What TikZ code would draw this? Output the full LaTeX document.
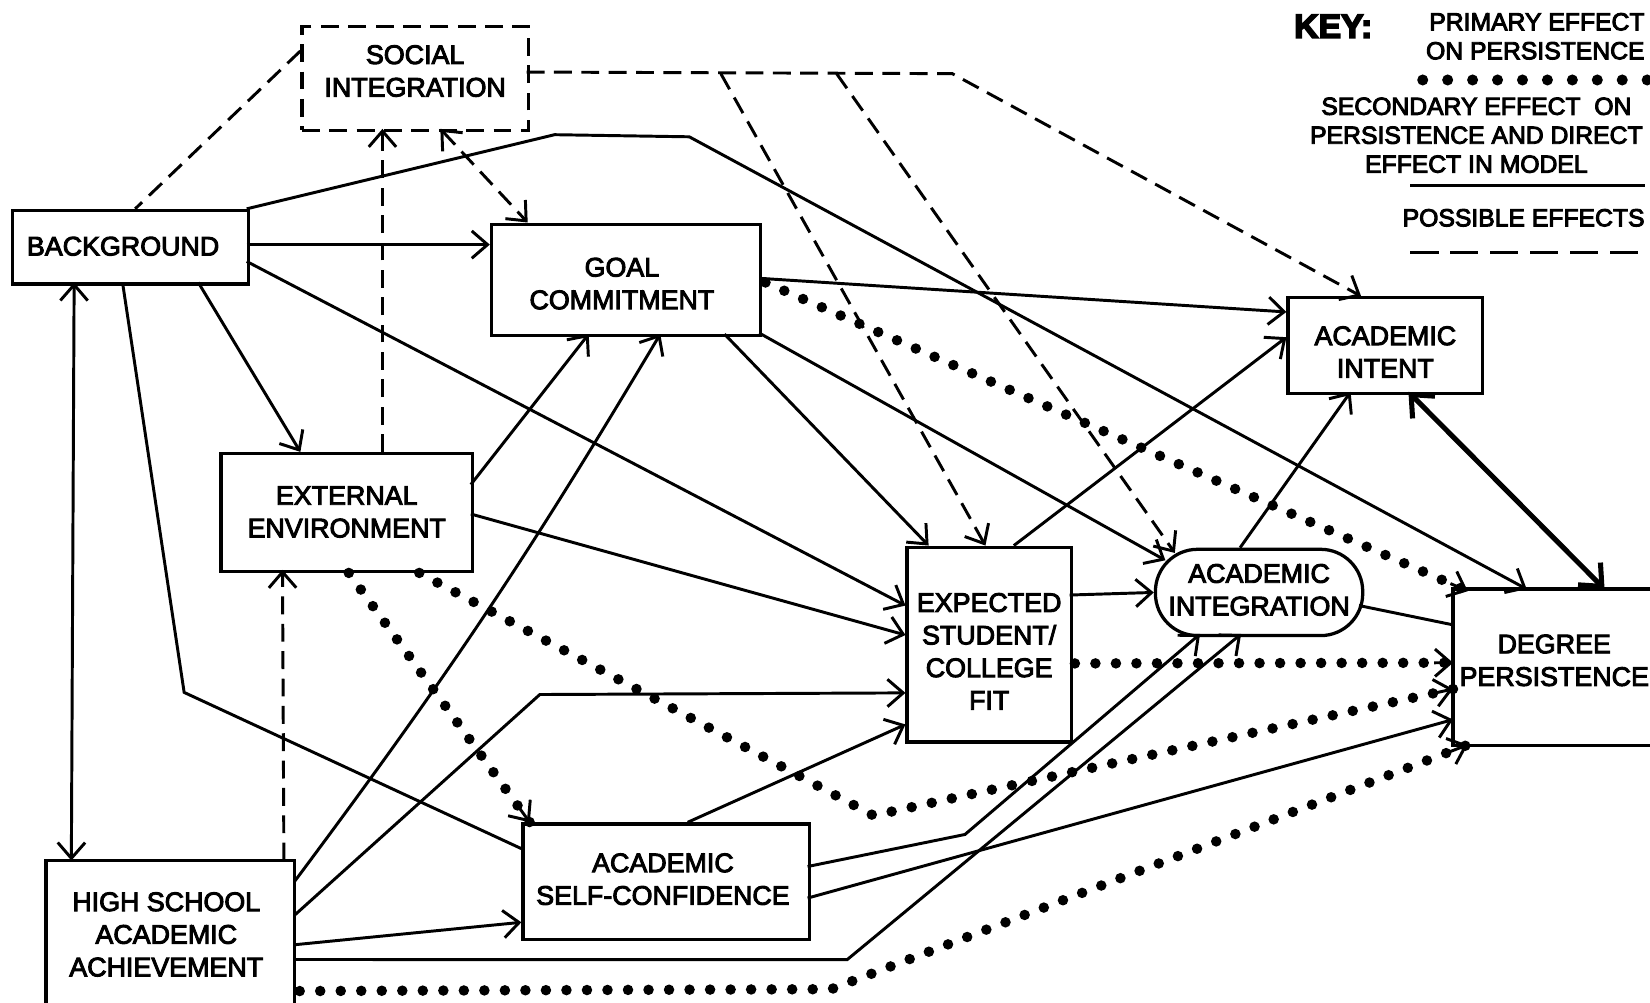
\documentclass[tikz,border=0pt]{standalone}
\usepackage{fontspec}
\setmainfont{Liberation Sans}
\newcommand\heavyink[1]{\special{pdf:literal 2 Tr #1 w}}
\usetikzlibrary{arrows.meta,calc}
\begin{document}
\begin{tikzpicture}[x=1pt,y=-1pt,
  every node/.style={font=\fontsize{25.5}{31}\selectfont\heavyink{0.9}, align=center, inner sep=0pt},
  box/.style={draw, line width=3.1pt},
  conn/.style={line width=2.8pt},
  arr/.style={line width=2.8pt, -{Straight Barb[length=15pt,width=26pt]}},
  darr/.style={line width=2.8pt, {Straight Barb[length=15pt,width=26pt]}-{Straight Barb[length=15pt,width=26pt]}},
  thickarr/.style={line width=4.8pt, {Straight Barb[length=17pt,width=30pt]}-{Straight Barb[length=17pt,width=30pt]}},
  dashline/.style={line width=2.8pt, dash pattern=on 17pt off 9pt},
  dotline/.style={line width=10pt, line cap=round, dash pattern=on 0pt off 19.5pt},
  keyfont/.style={font=\fontsize{23.5}{27.5}\selectfont\heavyink{0.9}}
]
\fill[white] (0,0) rectangle (1568,953);
\useasboundingbox (0,0) rectangle (1568,953);

% boxes
\node[box, dash pattern=on 17pt off 9pt, minimum width=215pt, minimum height=99pt] (si) at (394.5,74.5) {};
\node[box, minimum width=224pt, minimum height=70pt] (bg) at (124,235) {};
\node[box, minimum width=256pt, minimum height=106pt] (gc) at (595,266) {};
\node[box, minimum width=239pt, minimum height=112pt] (ee) at (329.5,487) {};
\node[minimum width=236pt, minimum height=135pt] (hs) at (162,885.5) {};
\draw[box] (hs.south west) -- (hs.north west) -- (hs.north east) -- (hs.south east);
\node[box, minimum width=272pt, minimum height=110pt] (asc) at (633,838) {};
\node[box, minimum width=156pt, minimum height=185pt] (fit) at (940,612.5) {};
\node[box, rounded corners=40pt, minimum width=197pt, minimum height=82pt] (ai) at (1196.5,563) {};
\node[box, minimum width=185pt, minimum height=91pt] (ain) at (1316.5,328.5) {};
\node[minimum width=187pt, minimum height=148pt] (dp) at (1474.5,634) {};
\draw[box] (dp.north east) -- (dp.north west) -- (dp.south west) -- (dp.south east);

% texts
\node (si-t) at ($(si)+(0,-7)$) {SOCIAL\\INTEGRATION};
\node (bg-t) at ($(bg)+(-7,-1)$) {BACKGROUND};
\node (gc-t) at ($(gc)+(-4,3.5)$) {GOAL\\COMMITMENT};
\node (ee-t) at ($(ee)+(0,-0.5)$) {EXTERNAL\\ENVIRONMENT};
\node (hs-t) at ($(hs)+(-4,2.5)$) {HIGH SCHOOL\\ACADEMIC\\ACHIEVEMENT};
\node (asc-t) at ($(asc)+(-3,-2.5)$) {ACADEMIC\\SELF-CONFIDENCE};
\node (fit-t) at ($(fit)+(0,6.5)$) {EXPECTED\\STUDENT/\\COLLEGE\\FIT};
\node (ai-t) at ($(ai)+(0,-2.5)$) {ACADEMIC\\INTEGRATION};
\node (ain-t) at ($(ain)+(0,6)$) {ACADEMIC\\INTENT};
\node (dp-t) at ($(dp)+(2.5,-6.5)$) {DEGREE\\PERSISTENCE};

% solid connectors
\draw[arr] ($(bg.north west)+(224,34)$) -- ($(gc.north west)+(0,21)$);
\draw[arr] ($(bg.north west)+(224,0)$) -- (527,128) -- (655,130) -- ($(dp.north west)+(70,0)$);
\draw[arr] ($(bg.north west)+(224,50)$) -- ($(fit.north west)+(0,57)$);
\draw[arr] ($(bg.north west)+(178,70)$) -- ($(ee.north west)+(77,0)$);
\draw[conn] ($(bg.north west)+(106,70)$) -- (175,658) -- ($(asc.north west)+(0,25)$);
\draw[darr] ($(bg.north west)+(60,70)$) -- ($(hs.north west)+(24,0)$);
\draw[arr] ($(ee.north west)+(239,31)$) -- ($(gc.north west)+(94,106)$);
\draw[arr] ($(ee.north west)+(239,59)$) -- ($(fit.north west)+(0,85)$);
\draw[arr] ($(hs.north west)+(236,20)$) to[bend right=3] ($(gc.north west)+(162,106)$);
\draw[arr] ($(hs.north west)+(236,52)$) -- (513,660) -- ($(fit.north west)+(0,140)$);
\draw[arr] ($(hs.north west)+(236,80)$) -- ($(asc.north west)+(0,95)$);
\draw[arr] ($(hs.north west)+(236,94)$) -- (805,912) -- ($(ai.north west)+(83,82)$);
\draw[arr] ($(asc.north west)+(158,0)$) -- ($(fit.north west)+(0,170)$);
\draw[arr] ($(asc.north west)+(272,42)$) -- (917,793) -- ($(ai.north west)+(44,82)$);
\draw[arr] ($(asc.north west)+(272,72)$) -- ($(dp.north west)+(0,124)$);
\draw[arr] ($(gc.north west)+(256,53)$) -- ($(ain.north west)+(0,15)$);
\draw[arr] ($(gc.north west)+(223,106)$) -- ($(fit.north west)+(22,0)$);
\draw[arr] ($(gc.north west)+(256,105)$) -- ($(ai.north west)+(11,12)$);
\draw[arr] ($(fit.north west)+(103,0)$) -- ($(ain.north west)+(0,39)$);
\draw[arr] ($(fit.north west)+(156,47)$) -- (ai.west);
\draw[arr] ($(ai.north west)+(82,0)$) -- ($(ain.north west)+(61,91)$);
\draw[conn] ($(ai.north west)+(195,55)$) -- ($(dp.north west)+(0,34)$);
\draw[thickarr] ($(ain.north west)+(116,91)$) -- ($(dp.north west)+(144,0)$);

% dotted connectors
\coordinate (d1a) at ($(gc.north west)+(262,57)$);
\coordinate (d1b) at ($(dp.north west)+(14,2)$);
\draw[dotline] (d1a) -- (d1b);
\draw[arr] ($(d1b)!18pt!(d1a)$) -- (d1b);
\coordinate (d2a) at ($(fit.north west)+(161,112)$);
\coordinate (d2b) at ($(dp.north west)+(0,70)$);
\draw[dotline] (d2a) -- (d2b);
\draw[arr] ($(d2b)!18pt!(d2a)$) -- (d2b);
\coordinate (d3a) at ($(ee.north west)+(190,115)$);
\coordinate (d3m) at (830,775);
\coordinate (d3b) at ($(dp.north west)+(0,95)$);
\draw[dotline] (d3a) -- (d3m) -- (d3b);
\draw[arr] ($(d3b)!18pt!(d3m)$) -- (d3b);
\coordinate (d4a) at ($(ee.north west)+(123,115)$);
\coordinate (d4b) at ($(asc.north west)+(8,0)$);
\draw[dotline] (d4a) -- (d4b);
\draw[arr] ($(d4b)!18pt!(d4a)$) -- (d4b);
\coordinate (d5a) at ($(hs.north west)+(241,124)$);
\coordinate (d5m) at (790,940);
\coordinate (d5b) at ($(dp.north west)+(14,148)$);
\draw[dotline] (d5a) -- (d5m) -- (d5b);
\draw[arr] ($(d5b)!18pt!(d5m)$) -- (d5b);

% dashed connectors
\draw[dashline] ($(si.north west)+(0,25)$) -- ($(bg.north west)+(118,0)$);
\draw[dashline, arr] ($(ee.north west)+(155,0)$) -- ($(si.north west)+(78,99)$);
\draw[dashline, darr] ($(si.north west)+(133,99)$) -- ($(gc.north west)+(36,0)$);
\draw[dashline, arr] ($(hs.north west)+(226,0)$) -- ($(ee.north west)+(60,112)$);
\coordinate (s5a) at (685,70);
\coordinate (s5b) at (795,70);
\draw[dashline, arr] ($(si.north west)+(215,45)$) -- (905,70) -- ($(ain.north west)+(71,0)$);
\draw[dashline, arr] (s5a) -- ($(fit.north west)+(76,0)$);
\draw[dashline, arr] (s5b) -- ($(ai.north west)+(20,5)$);

% key
\node[font=\bfseries\fontsize{32}{36}\selectfont\heavyink{1.6}] (key) at (1267,25) {KEY:};
\node[keyfont, align=right, anchor=east] (k1) at (1563,34.5) {PRIMARY EFFECT\\ON PERSISTENCE};
\draw[line width=10.5pt, line cap=round, dash pattern=on 0pt off 23.7pt] (1352,76) -- (1566,76);
\node[keyfont] (k2) at (1403,128.5) {SECONDARY EFFECT\ \ ON\\PERSISTENCE AND DIRECT\\EFFECT IN MODEL};
\draw[line width=2.8pt] (1340,176) -- (1563,176);
\node[keyfont, anchor=east] (k3) at (1563,207) {POSSIBLE EFFECTS};
\draw[line width=3pt, dash pattern=on 27pt off 11pt] (1340,240) -- (1566,240);
\end{tikzpicture}
\end{document}
